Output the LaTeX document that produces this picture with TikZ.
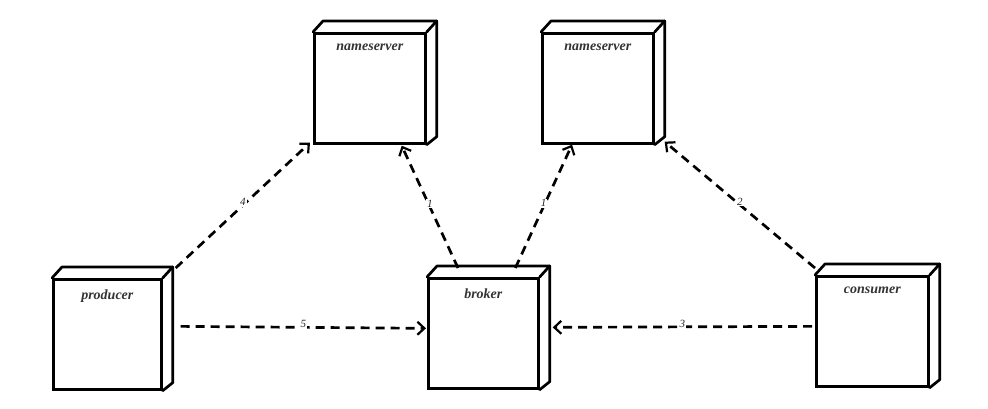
\documentclass[tikz,border=0pt]{standalone}
\usepackage{fontspec}
\setmainfont{Liberation Serif}
\usetikzlibrary{arrows.meta,calc}
\begin{document}
\begin{tikzpicture}[x=1pt,y=-1pt,
  face/.style={draw, line width=2.7pt, minimum width=111pt, minimum height=110pt,
    inner sep=0pt, anchor=north west,
    label={[anchor=north, yshift=-8pt, font=\fontsize{14}{16}\selectfont\bfseries\itshape, text=black!80]north:#1}},
  edge/.style={line width=2.7pt, line join=round, line cap=round},
  dep/.style={line width=2.7pt, dash pattern=on 9pt off 6pt,
    -{Straight Barb[length=7pt, width=13pt, line width=2.2pt]}},
  lab/.style={font=\fontsize{11}{12}\selectfont\itshape, text=black!85, fill=white, inner sep=1pt, yshift=3pt}]
\useasboundingbox (0,0) rectangle (988,409);

\node[face=nameserver] (ns1) at (313,32) {};
\node[face=nameserver] (ns2) at (541,32) {};
\node[face=producer, minimum width=108pt] (prod) at (52,278) {};
\node[face=broker, minimum width=110pt] (brk) at (427,277) {};
\node[face=consumer, minimum width=112pt] (cons) at (815,275) {};

\foreach \n in {ns1,ns2,prod,brk,cons}{
  \draw[edge] (\n.north west) -- ++(10,-11) coordinate (\n-tl)
    -- ($(\n.north east)+(10,-11)$) coordinate (\n-tr) -- (\n.north east);
  \draw[edge] (\n-tr) -- ($(\n.south east)+(10,-8)$) -- (\n.south east);
}

\draw[dep] ($(prod.north east)+(13,-10)$) -- node[lab]{4} ($(ns1.south west)+(-3,-2)$);
\draw[dep] ($(brk.north west)+(31,-9)$) -- node[lab]{1} ($(ns1.south east)+(-25,1)$);
\draw[dep] ($(brk.north)+(32,-9)$) -- node[lab]{1} ($(ns2.south west)+(31,0)$);
\draw[dep] ($(cons.north west)+(0,-7)$) -- node[lab]{2} ($(ns2.south east)+(10,-3)$);
\draw[dep] ($(prod.east)+(18,-8)$) -- node[lab]{5} ($(brk.west)+(-1,-5)$);
\draw[dep] ($(cons.west)+(-3,-5)$) -- node[lab]{3} ($(brk.east)+(13,-6)$);
\end{tikzpicture}
\end{document}
